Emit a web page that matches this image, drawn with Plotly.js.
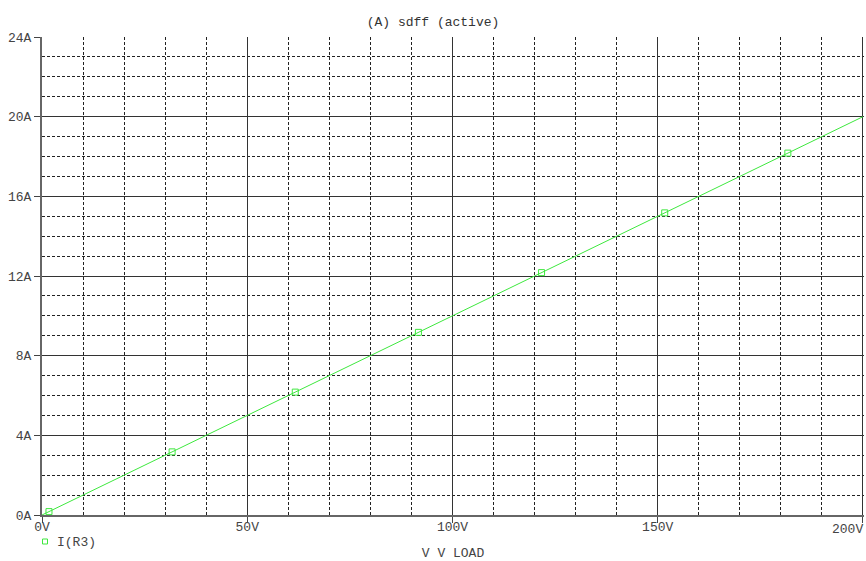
<!DOCTYPE html>
<html>
<head>
<meta charset="utf-8">
<script src="https://cdn.plot.ly/plotly-3.0.1.min.js"></script>
<style>html,body{margin:0;padding:0;background:#fff;}#chart{width:866px;height:561px;}</style>
</head>
<body>
<div id="chart"></div>
<script>
// Line endpoints (V LOAD, I(R3))
const lineVoltage = [0, 200];
const lineCurrent = [0, 20];
// Marker points
const markerVoltage = [1.7, 31.7, 61.7, 91.7, 121.7, 151.7, 181.7];
const markerCurrent = [0.17, 3.17, 6.17, 9.17, 12.17, 15.17, 18.17];
const seriesName = 'I(R3)';
const titleText = '(A) sdff (active)';
const xTitle = 'V V LOAD';
const xTickVals = [0, 50, 100, 150, 200];
const xTickText = ['0V', '50V', '100V', '150V', ''];
const xLastLabel = '200V';
const yTickVals = [0, 4, 8, 12, 16, 20, 24];
const yTickText = ['0A', '4A', '8A', '12A', '16A', '20A', '24A'];

const green = '#3ee83e';
const fam = 'Liberation Mono, monospace';
const txt = {family: fam, size: 13, color: '#444'};

const traces = [
  {x: lineVoltage, y: lineCurrent, mode: 'lines', line: {color: green, width: 1}, name: seriesName, showlegend: false, hoverinfo: 'skip'},
  {x: markerVoltage, y: markerCurrent, mode: 'markers', name: seriesName,
   marker: {symbol: 'square-open', size: 6, color: green, line: {width: 1, color: green}}, showlegend: false}
];

const layout = {
  width: 866, height: 561,
  margin: {l: 42, r: 2, t: 37, b: 46},
  paper_bgcolor: '#fff', plot_bgcolor: '#fff',
  font: txt,
  showlegend: false,
  title: {text: titleText, font: {family: fam, size: 13, color: '#333'}, x: 0.5, xref: 'container', y: 1, yref: 'container', yanchor: 'top', pad: {t: 17}, automargin: false},
  xaxis: {
    range: [0, 200.25], tickvals: xTickVals, ticktext: xTickText,
    ticks: 'outside', ticklen: 6, tickcolor: '#444', tickwidth: 1,
    ticklabelstandoff: -8,
    automargin: false,
    showline: true, linecolor: '#666', linewidth: 2,
    showgrid: true, gridcolor: '#333', gridwidth: 1,
    zeroline: false,
    minor: {dtick: 10, showgrid: true, gridcolor: '#222', griddash: '3px,2px', gridwidth: 1, ticks: ''},
    tickfont: txt,
    title: {text: xTitle, font: txt, standoff: 30},
    fixedrange: true
  },
  yaxis: {
    range: [0, 24], tickvals: yTickVals, ticktext: yTickText,
    ticks: 'outside', ticklen: 6, tickcolor: '#444', tickwidth: 1,
    automargin: false,
    showline: true, linecolor: '#666', linewidth: 2,
    showgrid: true, gridcolor: '#333', gridwidth: 1,
    zeroline: false,
    minor: {dtick: 1, showgrid: true, gridcolor: '#222', griddash: '3px,2px', gridwidth: 1, ticks: ''},
    tickfont: txt,
    fixedrange: true
  },
  annotations: [
    {x: xTickVals[4], xref: 'x', xanchor: 'right', xshift: 2, y: 0, yref: 'paper', yanchor: 'top', yshift: -5,
     text: xLastLabel, showarrow: false, font: txt},
    {x: 0, xref: 'paper', xanchor: 'left', xshift: 13, y: 0, yref: 'paper', yanchor: 'middle', yshift: -27,
     text: seriesName, showarrow: false, font: txt}
  ],
  shapes: [
    {type: 'rect', xref: 'paper', xsizemode: 'pixel', xanchor: 0, x0: 0.5, x1: 5.5,
     yref: 'paper', ysizemode: 'pixel', yanchor: 0, y0: -24, y1: -29,
     line: {color: green, width: 1}, fillcolor: 'rgba(0,0,0,0)'}
  ]
};

Plotly.newPlot('chart', traces, layout, {displayModeBar: false, staticPlot: true});
</script>
</body>
</html>
